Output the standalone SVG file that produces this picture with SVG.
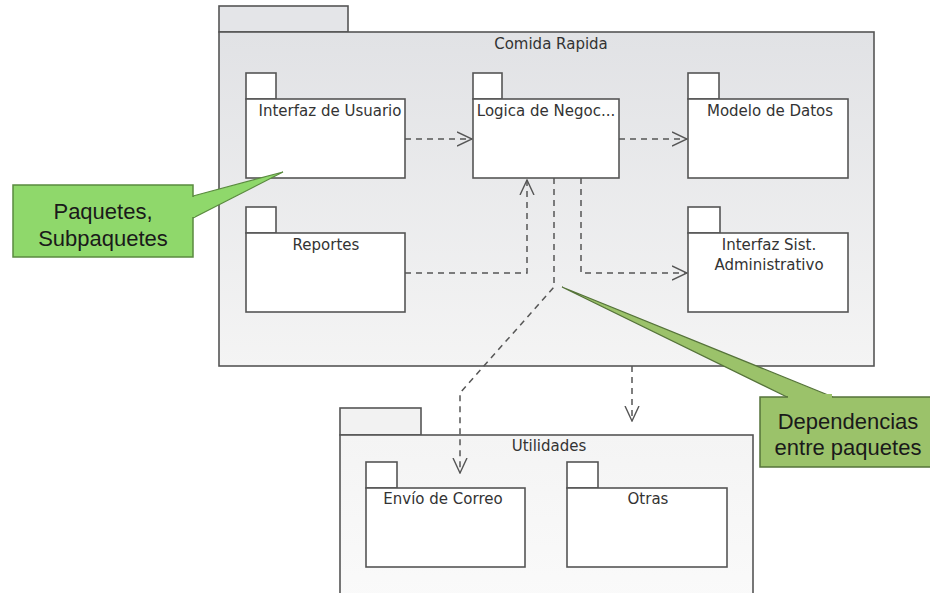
<svg xmlns="http://www.w3.org/2000/svg" width="930" height="593" viewBox="0 0 930 593">
  <defs>
    <linearGradient id="bgOuter" x1="0" y1="0" x2="0" y2="1">
      <stop offset="0" stop-color="#e1e2e5"/>
      <stop offset="1" stop-color="#f4f4f4"/>
    </linearGradient>
    <linearGradient id="bgUtil" x1="0" y1="0" x2="0" y2="1">
      <stop offset="0" stop-color="#f4f4f4"/>
      <stop offset="1" stop-color="#fafafa"/>
    </linearGradient>
    <marker id="open" viewBox="0 0 16 16" refX="15" refY="8" markerWidth="16" markerHeight="16" markerUnits="userSpaceOnUse" orient="auto">
      <path d="M0,1 L15,8 L0,15" fill="none" stroke="#555" stroke-width="1.4"/>
    </marker>
    <style>
      .pkg { fill: #ffffff; stroke: #555; stroke-width: 1.6; }
      .frame { stroke: #555; stroke-width: 1.6; }
      .lbl { font-family: "DejaVu Sans", sans-serif; font-size: 15px; fill: #333; text-anchor: middle; }
      .dep { fill: none; stroke: #555; stroke-width: 1.5; stroke-dasharray: 6 5; marker-end: url(#open); }
      .note { font-family: "Liberation Sans", Arial, sans-serif; fill: #1a1a1a; text-anchor: middle; }
    </style>
  </defs>

  <rect width="930" height="593" fill="#ffffff"/>

  <!-- Comida Rapida package -->
  <g id="comida-rapida">
    <rect class="frame" x="219" y="6" width="129" height="26" fill="#e4e5e8"/>
    <rect class="frame" x="219" y="32" width="655" height="334" fill="url(#bgOuter)"/>
    <text class="lbl" x="551" y="49">Comida Rapida</text>
  </g>

  <!-- Utilidades package -->
  <g id="utilidades">
    <rect class="frame" x="340" y="408" width="81" height="27" fill="#f2f2f2"/>
    <rect class="frame" x="340" y="435" width="413" height="170" fill="url(#bgUtil)"/>
    <text class="lbl" x="549" y="451">Utilidades</text>
  </g>

  <g id="interfaz-usuario">
    <rect class="pkg" x="246" y="73" width="30" height="26"/>
    <rect class="pkg" x="246" y="99" width="159" height="79"/>
    <text class="lbl" x="330" y="116">Interfaz de Usuario</text>
  </g>

  <g id="logica-negocio">
    <rect class="pkg" x="473" y="73" width="29" height="26"/>
    <rect class="pkg" x="473" y="99" width="146" height="79"/>
    <text class="lbl" x="546" y="116">Logica de Negoc...</text>
  </g>

  <g id="modelo-datos">
    <rect class="pkg" x="688" y="73" width="31" height="26"/>
    <rect class="pkg" x="688" y="99" width="160" height="79"/>
    <text class="lbl" x="770" y="116">Modelo de Datos</text>
  </g>

  <g id="reportes">
    <rect class="pkg" x="246" y="207" width="30" height="26"/>
    <rect class="pkg" x="246" y="233" width="159" height="79"/>
    <text class="lbl" x="326" y="250">Reportes</text>
  </g>

  <g id="interfaz-sist">
    <rect class="pkg" x="688" y="207" width="32" height="26"/>
    <rect class="pkg" x="688" y="233" width="160" height="79"/>
    <text class="lbl" x="769" y="250">Interfaz Sist.</text>
    <text class="lbl" x="769" y="270">Administrativo</text>
  </g>

  <g id="envio-correo">
    <rect class="pkg" x="366" y="462" width="31" height="26"/>
    <rect class="pkg" x="366" y="488" width="159" height="79"/>
    <text class="lbl" x="443" y="504">Envío de Correo</text>
  </g>

  <g id="otras">
    <rect class="pkg" x="567" y="462" width="31" height="26"/>
    <rect class="pkg" x="567" y="488" width="160" height="79"/>
    <text class="lbl" x="648" y="504">Otras</text>
  </g>

  <!-- dependency connectors -->
  <g id="connectors">
    <path class="dep" d="M405,139 L472,139"/>
    <path class="dep" d="M619,139 L687,139"/>
    <path class="dep" d="M405,273 L527,273 L527,180"/>
    <path class="dep" d="M581,178 L581,273 L687,273"/>
    <path class="dep" d="M554,178 L554,287 L460,393 L460,473"/>
    <path class="dep" d="M632,366 L632,421"/>
  </g>

  <!-- callouts -->
  <g id="callout-paquetes">
    <path d="M193,196 L283,172 L193,218 Z" fill="#8fd86b" stroke="#5a8a3f" stroke-width="1.2"/>
    <rect x="13" y="185" width="180" height="72" fill="#8fd86b" stroke="#5a8a3f" stroke-width="1.5"/>
    <rect x="190" y="197" width="5" height="20" fill="#8fd86b"/>
    <text class="note" x="103" y="219" font-size="22">Paquetes,</text>
    <text class="note" x="103" y="246" font-size="22">Subpaquetes</text>
  </g>

  <g id="callout-dependencias">
    <path d="M787,397 L562,287 L833,397 Z" fill="#9bc26a" stroke="#55733a" stroke-width="1.2"/>
    <rect x="760" y="397" width="172" height="70" fill="#9bc26a" stroke="#55733a" stroke-width="1.5"/>
    <rect x="788" y="394" width="44" height="5" fill="#9bc26a"/>
    <text class="note" x="848" y="429" font-size="22">Dependencias</text>
    <text class="note" x="848" y="455" font-size="22">entre paquetes</text>
  </g>
</svg>
